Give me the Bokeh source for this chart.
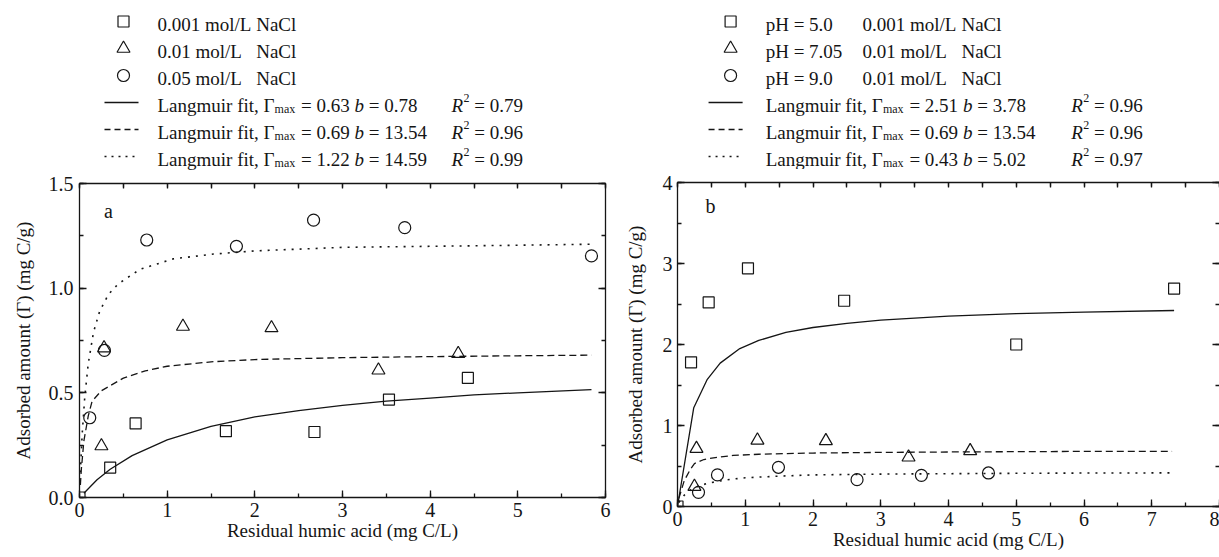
from bokeh.plotting import figure
from bokeh.layouts import row, column
from bokeh.models import Range1d, LinearAxis, SingleIntervalTicker, NumeralTickFormatter, Label
from bokeh.core.properties import value
from bokeh.embed import file_html
from bokeh.resources import INLINE

# ---------------- data ----------------
# Panel a: ionic strength series
sq_a_x = [0.0, 0.35, 0.64, 1.67, 2.68, 3.53, 4.43]
sq_a_y = [0.0, 0.143, 0.354, 0.317, 0.313, 0.468, 0.571]
tri_x = [0.25, 0.28, 1.18, 2.19, 3.41, 4.32]
tri_y = [0.246, 0.714, 0.817, 0.81, 0.608, 0.687]
cir_a_x = [0.117, 0.284, 0.767, 1.79, 2.67, 3.71, 5.84]
cir_a_y = [0.381, 0.703, 1.23, 1.20, 1.325, 1.289, 1.154]

fit_a_solid_x = [0.05, 0.2, 0.35, 0.6, 1.0, 1.5, 2.0, 2.5, 3.0, 3.5, 4.0, 4.5, 5.0, 5.84]
fit_a_solid_y = [0.02, 0.085, 0.135, 0.20, 0.275, 0.34, 0.385, 0.415, 0.44, 0.46, 0.475, 0.49, 0.50, 0.515]
fit_a_dash_x = [0.01, 0.02, 0.05, 0.1, 0.144, 0.25, 0.5, 0.75, 1.0, 1.5, 2.0, 3.0, 4.0, 5.0, 5.84]
fit_a_dash_y = [0.06, 0.13, 0.27, 0.39, 0.46, 0.51, 0.57, 0.605, 0.627, 0.648, 0.659, 0.668, 0.673, 0.677, 0.68]
fit_a_dot_x = [0.01, 0.03, 0.06, 0.1, 0.16, 0.23, 0.33, 0.44, 0.69, 1.07, 1.53, 2.0, 3.0, 4.0, 5.0, 5.84]
fit_a_dot_y = [0.12, 0.30, 0.48, 0.64, 0.79, 0.89, 0.97, 1.02, 1.09, 1.14, 1.163, 1.178, 1.195, 1.20, 1.205, 1.21]

# Panel b: pH series
sq_b_x = [0.0, 0.20, 0.46, 1.04, 2.46, 5.00, 7.33]
sq_b_y = [0.0, 1.78, 2.52, 2.94, 2.54, 2.00, 2.69]
cir_b_x = [0.31, 0.59, 1.49, 2.65, 3.60, 4.59]
cir_b_y = [0.175, 0.39, 0.484, 0.331, 0.385, 0.414]

fit_b_solid_x = [0.0, 0.24, 0.44, 0.63, 0.92, 1.2, 1.6, 2.0, 2.5, 3.0, 4.0, 5.0, 6.0, 7.33]
fit_b_solid_y = [0.0, 1.22, 1.57, 1.77, 1.95, 2.05, 2.15, 2.21, 2.26, 2.30, 2.35, 2.38, 2.40, 2.42]
fit_b_dash_x = [0.02, 0.1, 0.19, 0.25, 0.39, 0.6, 0.82, 1.2, 2.0, 3.0, 4.0, 5.0, 6.0, 7.3]
fit_b_dash_y = [0.10, 0.32, 0.46, 0.53, 0.58, 0.61, 0.63, 0.645, 0.66, 0.668, 0.673, 0.677, 0.68, 0.68]
fit_b_dot_x = [0.02, 0.1, 0.2, 0.3, 0.46, 0.73, 1.0, 1.5, 2.0, 3.0, 4.0, 5.0, 6.0, 7.3]
fit_b_dot_y = [0.05, 0.14, 0.21, 0.25, 0.29, 0.33, 0.355, 0.375, 0.39, 0.40, 0.405, 0.41, 0.413, 0.415]

# legend texts / fit parameters
a_series = ["0.001 mol/L", "0.01 mol/L", "0.05 mol/L"]
b_ph = ["pH = 5.0", "pH = 7.05", "pH = 9.0"]
b_series = ["0.001 mol/L", "0.01 mol/L", "0.01 mol/L"]
a_gmax = ["0.63", "0.69", "1.22"]
a_b = ["0.78", "13.54", "14.59"]
a_r2 = ["0.79", "0.96", "0.99"]
b_gmax = ["2.51", "0.69", "0.43"]
b_b = ["3.78", "13.54", "5.02"]
b_r2 = ["0.96", "0.96", "0.97"]
x_title = "Residual humic acid (mg C/L)"
y_title = "Adsorbed amount (\u0393) (mg C/g)"

# ---------------- style ----------------
FONT = "Liberation Serif, Times New Roman, DejaVu Serif, serif"
FS = 19
TICK_FS = 20
INK = "#151515"
LW = 1.3
DASH = "7 4"
DOT = "2 6"

H = 557
W_A, W_B = 612, 607
TOPB = 13
LEG_A, LEG_B = 183 - TOPB, 182 - TOPB
BORD_A = (79, 7)
BORD_B = (65, 0)

METRIC = {' ': 250, ',': 250, '.': 250, '/': 278, '=': 564, '(': 333, ')': 333,
          'C': 667, 'H': 722, 'L': 611, 'N': 722, 'R': 667, 'a': 444, 'b': 500,
          'c': 444, 'd': 500, 'f': 333, 'g': 500, 'i': 278, 'l': 278, 'm': 778,
          'n': 500, 'o': 500, 'p': 500, 'r': 333, 't': 278, 'u': 500, 'x': 500,
          '\u0393': 578}
SP = 0.25 * FS


def tw(s, fs=FS):
    return sum(METRIC.get(ch, 500) for ch in s) / 1000.0 * fs


def style_axis(ax, ticker, fmt=None, labels=True, line=True):
    ax.ticker = ticker
    ax.major_tick_in = 7
    ax.major_tick_out = 0
    ax.minor_tick_in = 4
    ax.minor_tick_out = 0
    ax.axis_line_width = LW
    ax.major_tick_line_width = LW
    ax.minor_tick_line_width = LW
    ax.axis_line_color = INK if line else None
    ax.major_tick_line_color = INK
    ax.minor_tick_line_color = INK
    if fmt is not None:
        ax.formatter = fmt
    ax.major_label_text_font = FONT
    if labels:
        ax.major_label_text_font_size = f"{TICK_FS}px"
        ax.major_label_text_color = INK
    else:
        ax.major_label_text_font_size = "1px"
        ax.major_label_text_color = None
        ax.major_label_standoff = 0


def panel(width, height, xr, yr, xint, yint, yfmt, bord, bottom, lab, lab_off, right_line=True):
    p = figure(width=width, height=height, x_range=Range1d(*xr), y_range=Range1d(*yr),
               output_backend="svg", toolbar_location=None, x_axis_location=None,
               y_axis_location=None, min_border_left=bord[0], min_border_right=bord[1],
               min_border_top=TOPB, min_border_bottom=bottom)
    p.outline_line_color = None
    p.grid.visible = False
    p.background_fill_color = "white"
    p.border_fill_color = "white"
    xb = LinearAxis()
    style_axis(xb, SingleIntervalTicker(interval=xint, num_minor_ticks=2))
    xb.major_label_standoff = 5
    xb.axis_label = x_title
    xb.axis_label_text_font = FONT
    xb.axis_label_text_font_size = f"{FS}px"
    xb.axis_label_text_font_style = "normal"
    xb.axis_label_text_color = INK
    xb.axis_label_standoff = 0
    p.add_layout(xb, "below")
    yl = LinearAxis()
    style_axis(yl, SingleIntervalTicker(interval=yint, num_minor_ticks=2), yfmt)
    yl.major_label_standoff = lab_off[0]
    yl.axis_label = y_title
    yl.axis_label_text_font = FONT
    yl.axis_label_text_font_size = f"{FS}px"
    yl.axis_label_text_font_style = "normal"
    yl.axis_label_text_color = INK
    yl.axis_label_standoff = lab_off[1]
    p.add_layout(yl, "left")
    xt = LinearAxis()
    style_axis(xt, SingleIntervalTicker(interval=xint / 2.0, num_minor_ticks=1), labels=False)
    xt.major_tick_in = 5
    p.add_layout(xt, "above")
    yr_ax = LinearAxis()
    style_axis(yr_ax, SingleIntervalTicker(interval=yint, num_minor_ticks=2), labels=False, line=right_line)
    p.add_layout(yr_ax, "right")
    p.add_layout(Label(x=xr[0], y=yr[1], x_offset=lab[1], y_offset=-lab[2], text=lab[0],
                       text_font=FONT, text_font_size=f"{FS + 1}px", text_color=INK,
                       text_align="center", text_baseline="middle"))
    return p


def markers(p, xs, ys, kind, size):
    p.scatter(xs, ys, marker=kind, size=size, fill_color=None, line_color=INK, line_width=1.2)


# ---------------- panel a ----------------
pa = panel(W_A, H - LEG_A, (0, 6), (0, 1.5), 1, 0.5, NumeralTickFormatter(format="0.0"),
           BORD_A, 60, ("a", 29, 27), (6, 12))
pa.line(fit_a_solid_x, fit_a_solid_y, line_color=INK, line_width=LW)
pa.line(fit_a_dash_x, fit_a_dash_y, line_color=INK, line_width=LW, line_dash=DASH)
pa.line(fit_a_dot_x, fit_a_dot_y, line_color=INK, line_width=1.6, line_dash=DOT)
markers(pa, sq_a_x, sq_a_y, "square", 11)
markers(pa, tri_x, tri_y, "triangle", 13)
markers(pa, cir_a_x, cir_a_y, "circle", 12)

# ---------------- panel b ----------------
pb = panel(W_B, H - LEG_B, (0, 8), (0, 4), 1, 1, None,
           BORD_B, 51, ("b", 33, 23), (5, 14), right_line=False)
pb.line(fit_b_solid_x, fit_b_solid_y, line_color=INK, line_width=LW)
pb.line(fit_b_dash_x, fit_b_dash_y, line_color=INK, line_width=LW, line_dash=DASH)
pb.line(fit_b_dot_x, fit_b_dot_y, line_color=INK, line_width=1.6, line_dash=DOT)
markers(pb, sq_b_x, sq_b_y, "square", 11)
markers(pb, tri_x, tri_y, "triangle", 13)
markers(pb, cir_b_x, cir_b_y, "circle", 12)


# ---------------- legends ----------------
ROWS = [21, 48, 75, 102, 129, 156]
BASE = 2.5
SUB = 12


def legend_fig(width, height, bord, right_actual):
    # the legend canvas frame is aligned with the panel frame below it,
    # so its x range runs in canvas pixels between the two borders
    lg = figure(width=width, height=height, x_range=Range1d(bord[0], width - right_actual),
                y_range=Range1d(height, 0), output_backend="svg", toolbar_location=None,
                x_axis_type=None, y_axis_type=None, min_border_left=bord[0],
                min_border_right=bord[1], min_border_top=0, min_border_bottom=0)
    lg.outline_line_color = None
    lg.grid.visible = False
    return lg


def txt(lg, xs, ys, texts, size=FS, style="normal"):
    lg.text(xs, ys, text=texts, text_font=value(FONT), text_font_size=value(f"{size}px"),
            text_font_style=style, text_color=INK, text_baseline="alphabetic", text_align="left")


def legend_common(lg, xm, xl0, xl1, xt, r_rel, gmax, bb, r2):
    for kind, size, yy in (("square", 11, ROWS[0]), ("triangle", 13, ROWS[1]), ("circle", 12, ROWS[2])):
        lg.scatter([xm], [yy], marker=kind, size=size, fill_color=None, line_color=INK, line_width=1.2)
    lg.line([xl0, xl1], [ROWS[3], ROWS[3]], line_color=INK, line_width=LW)
    lg.line([xl0, xl1], [ROWS[4], ROWS[4]], line_color=INK, line_width=LW, line_dash="6 4")
    lg.line([xl0, xl1], [ROWS[5], ROWS[5]], line_color=INK, line_width=1.6, line_dash="2 5")
    reg_x, reg_y, reg_t = [], [], []
    it_x, it_y, it_t = [], [], []
    sm_x, sm_y, sm_t = [], [], []
    xr = xt + r_rel
    for k in range(3):
        yb = ROWS[3 + k] + BASE
        x = xt
        s1 = "Langmuir fit, \u0393"
        reg_x.append(x); reg_y.append(yb); reg_t.append(s1)
        x += tw(s1)
        sm_x.append(x); sm_y.append(yb + 4); sm_t.append("max")
        x += tw("max", SUB) + 1 + SP
        s2 = "= " + gmax[k]
        reg_x.append(x); reg_y.append(yb); reg_t.append(s2)
        x += tw(s2) + SP
        it_x.append(x); it_y.append(yb); it_t.append("b")
        x += tw("b") + SP
        reg_x.append(x); reg_y.append(yb); reg_t.append("= " + bb[k])
        it_x.append(xr); it_y.append(yb); it_t.append("R")
        sm_x.append(xr + 12); sm_y.append(yb - 7); sm_t.append("2")
        reg_x.append(xr + 12 + tw("2", SUB) + SP); reg_y.append(yb); reg_t.append("= " + r2[k])
    txt(lg, reg_x, reg_y, reg_t)
    txt(lg, it_x, it_y, it_t, style="italic")
    txt(lg, sm_x, sm_y, sm_t, size=SUB)


# legend a
la = legend_fig(W_A, LEG_A, BORD_A, 7)
XT_A = 157
legend_common(la, 123, 104, 138, XT_A, 294, a_gmax, a_b, a_r2)
x_nacl = XT_A + tw("0.001 mol/L ")
txt(la, [XT_A] * 3, [r + BASE for r in ROWS[:3]], a_series)
txt(la, [x_nacl] * 3, [r + BASE for r in ROWS[:3]], ["NaCl"] * 3)

# legend b
lb = legend_fig(W_B, LEG_B, BORD_B, 1)
XT_B = 153
legend_common(lb, 118, 96, 130, XT_B, 305, b_gmax, b_b, b_r2)
x2 = XT_B + tw("pH = 7.05") + 20
x_nacl_b = x2 + tw("0.001 mol/L ")
txt(lb, [XT_B] * 3, [r + BASE for r in ROWS[:3]], b_ph)
txt(lb, [x2] * 3, [r + BASE for r in ROWS[:3]], b_series)
txt(lb, [x_nacl_b] * 3, [r + BASE for r in ROWS[:3]], ["NaCl"] * 3)

layout = row(column(la, pa), column(lb, pb))
open("out.html", "w").write(file_html(layout, INLINE))
